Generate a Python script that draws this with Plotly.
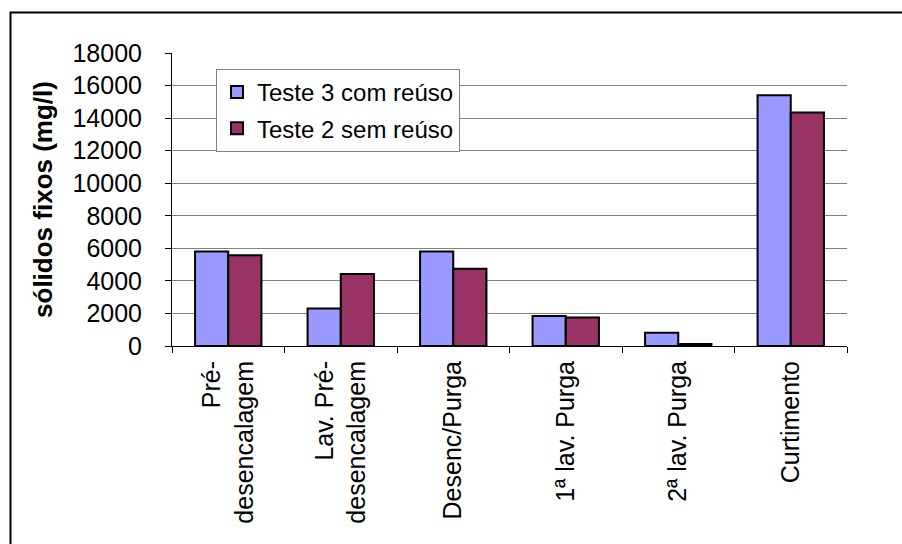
import plotly.graph_objects as go

categories = ["Pré-<br>desencalagem", "Lav. Pré-<br>desencalagem", "Desenc/Purga",
              "1ª lav. Purga", "2ª lav. Purga", "Curtimento"]
teste3_com_reuso = [5800, 2300, 5800, 1850, 820, 15400]
teste2_sem_reuso = [5570, 4420, 4750, 1750, 130, 14350]
series_names = ["Teste 3 com reúso", "Teste 2 sem reúso"]
y_ticks = list(range(0, 18001, 2000))
y_tick_labels = [str(v) for v in y_ticks]

FONT = "Liberation Sans, Arial, sans-serif"
W, H = 902, 544
L, R, T, B = 172, 55, 53, 198
pw, ph = W - L - R, H - T - B

def px(x):
    return (x - L) / pw

def py(y):
    return (H - B - y) / ph

fig = go.Figure()
fig.add_trace(go.Bar(x=categories, y=teste3_com_reuso, name=series_names[0],
                     marker=dict(color="#9999FF", line=dict(color="black", width=2)),
                     legendgroup="a"))
fig.add_trace(go.Bar(x=categories, y=teste2_sem_reuso, name=series_names[1],
                     marker=dict(color="#993366", line=dict(color="black", width=2)),
                     legendgroup="b"))

fig.update_layout(
    width=W, height=H,
    margin=dict(l=L, r=R, t=T, b=B, pad=0),
    paper_bgcolor="white", plot_bgcolor="white",
    barmode="group", bargap=0.41, bargroupgap=0,
    font=dict(family=FONT, size=25, color="black"),
    showlegend=True,
    legend=dict(x=px(216), y=py(69), xanchor="left", yanchor="top",
                bordercolor="#808080", borderwidth=1, bgcolor="white",
                font=dict(size=24), tracegroupgap=2, itemwidth=30),
    xaxis=dict(type="category", showline=True, linecolor="black", linewidth=1,
               ticks="outside", tickson="boundaries", ticklen=6, tickcolor="black",
               tickangle=-90, tickfont=dict(size=25), ticklabelstandoff=4,
               showgrid=False, fixedrange=True),
    yaxis=dict(range=[0, 18000], tickvals=y_ticks, ticktext=y_tick_labels,
               showline=True, linecolor="black",
               linewidth=1, ticks="outside", ticklen=6, tickcolor="black",
               showgrid=True, gridcolor="#808080", gridwidth=1,
               tickfont=dict(size=25), ticklabelstandoff=18, zeroline=False,
               title=dict(text="<b>sólidos fixos (mg/l)</b>", font=dict(size=26), standoff=12)),
    shapes=[dict(type="rect", xref="paper", yref="paper",
                 x0=px(10.5), x1=px(910), y0=py(560), y1=py(12.5),
                 line=dict(color="black", width=2), fillcolor="rgba(0,0,0,0)", layer="above")],
)

fig.write_html("out.html")
